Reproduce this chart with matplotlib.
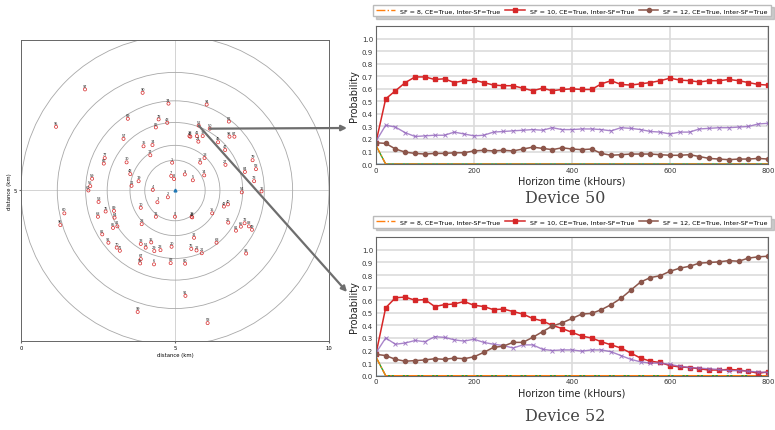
import numpy as np
import matplotlib.pyplot as plt
from matplotlib.patches import Circle, ConnectionPatch

# ---- left panel: device positions (km) ----
radii = [0.98, 1.46, 2.2, 2.9, 3.82, 5.0]

dev_id = [97, 90, 74, 94, 95, 69, 78, 43, 52, 50, 62, 86, 57, 38, 46, 41, 37, 24,
          98, 87, 35, 34, 45, 47, 17, 77, 66, 30, 1, 18, 13, 27, 79, 58, 84, 48,
          7, 8, 9, 5, 14, 59, 19, 73, 56, 61, 11, 4, 54, 16, 2, 3, 53, 60, 96,
          75, 89, 64, 10, 12, 0, 39, 44, 15, 42, 40, 68, 26, 72, 81, 65, 88, 49,
          28, 85, 31, 82, 32, 63, 36, 33, 51, 92, 70, 71, 20, 76, 23, 29, 22, 21,
          93, 67, 55, 6, 83, 80, 91, 99, 58]
dev_x = [2.08, 3.95, 4.79, 6.03, 1.14, 3.47, 4.47, 4.75, 5.77, 6.13, 6.75, 4.38, 3.33, 5.47, 5.50, 5.71, 5.90, 5.76,
         6.77, 6.93, 3.98, 4.27, 6.40, 6.63, 4.20, 2.72, 2.69, 3.43, 4.91, 5.82, 5.96, 6.64, 7.52, 7.63, 7.27, 3.55,
         4.88, 4.97, 5.32, 5.58, 5.95, 2.31, 3.82, 7.57, 2.25, 2.19, 3.59, 4.28, 7.17, 7.81, 4.77, 4.43, 2.52, 1.41, 1.28,
         2.75, 3.02, 3.04, 3.89, 4.38, 5.00, 5.54, 5.56, 6.21, 6.59, 6.72, 2.50, 6.73, 7.26, 6.98, 7.14, 7.40, 7.50,
         3.92, 2.99, 3.13, 2.64, 5.62, 6.35, 4.23, 3.89, 4.05, 2.84, 3.11, 3.21, 4.89, 5.53, 4.53, 4.33, 5.70, 5.87,
         7.31, 3.89, 3.87, 4.32, 4.86, 5.33, 5.34, 3.79, 6.06]
dev_y = [8.27, 8.16, 7.81, 7.78, 7.06, 7.32, 7.30, 7.19, 7.10, 7.00, 7.23, 7.04, 6.67, 6.76, 6.74, 6.76, 6.76, 6.58,
         6.74, 6.74, 6.43, 6.47, 6.56, 6.31, 6.14, 6.05, 5.87, 5.91, 5.90, 5.90, 6.05, 5.83, 5.98, 5.69, 5.60, 5.53,
         5.47, 5.37, 5.52, 5.33, 5.49, 5.38, 5.30, 5.30, 5.14, 5.00, 5.15, 5.02, 4.94, 4.97, 4.78, 4.62, 4.63, 4.26, 3.88,
         4.32, 4.34, 4.12, 4.44, 4.15, 4.15, 4.15, 4.13, 4.26, 4.48, 4.55, 4.15, 3.96, 3.94, 3.70, 3.83, 3.84, 3.73,
         3.91, 3.79, 3.84, 3.58, 3.47, 3.31, 3.32, 3.27, 3.15, 3.31, 3.15, 3.05, 3.18, 3.11, 3.07, 3.04, 3.06, 2.97,
         2.96, 2.78, 2.64, 2.61, 2.65, 2.63, 1.59, 1.07, 0.71]

# ---- right panels: probability of each SF over time ----
hours = np.arange(0, 801, 20)
sf7 = [0.0] * 41
sf8 = [0.15] + [0.0] * 40
sf9 = [0.15] + [0.0] * 40

d50_sf10 = [0.17, 0.52, 0.585, 0.65, 0.695, 0.695, 0.675, 0.68, 0.65, 0.665, 0.67,
            0.65, 0.63, 0.625, 0.625, 0.605, 0.585, 0.605, 0.585, 0.595, 0.60,
            0.595, 0.595, 0.64, 0.665, 0.635, 0.63, 0.64, 0.65, 0.665, 0.685,
            0.67, 0.665, 0.655, 0.665, 0.665, 0.675, 0.665, 0.65, 0.635, 0.63]
d50_sf11 = [0.18, 0.31, 0.295, 0.25, 0.22, 0.225, 0.23, 0.23, 0.255, 0.24, 0.225,
            0.23, 0.255, 0.26, 0.265, 0.27, 0.275, 0.27, 0.29, 0.275, 0.275,
            0.28, 0.28, 0.275, 0.265, 0.29, 0.285, 0.275, 0.26, 0.255, 0.24,
            0.255, 0.255, 0.28, 0.285, 0.29, 0.29, 0.295, 0.30, 0.32, 0.325]
d50_sf12 = [0.17, 0.165, 0.12, 0.095, 0.085, 0.08, 0.085, 0.085, 0.09, 0.09, 0.105,
            0.11, 0.105, 0.11, 0.105, 0.12, 0.135, 0.125, 0.115, 0.13, 0.12,
            0.115, 0.12, 0.085, 0.07, 0.075, 0.08, 0.08, 0.08, 0.075, 0.07,
            0.07, 0.075, 0.06, 0.045, 0.04, 0.035, 0.04, 0.04, 0.045, 0.04]

d52_sf10 = [0.17, 0.54, 0.62, 0.625, 0.60, 0.605, 0.55, 0.565, 0.57, 0.59, 0.56,
            0.55, 0.525, 0.53, 0.51, 0.49, 0.455, 0.435, 0.40, 0.375, 0.345,
            0.315, 0.30, 0.27, 0.245, 0.22, 0.18, 0.14, 0.115, 0.105, 0.08,
            0.07, 0.065, 0.055, 0.045, 0.045, 0.05, 0.045, 0.035, 0.02, 0.03]
d52_sf11 = [0.18, 0.30, 0.25, 0.26, 0.28, 0.27, 0.31, 0.305, 0.285, 0.275, 0.29,
            0.265, 0.25, 0.24, 0.22, 0.245, 0.245, 0.21, 0.20, 0.205, 0.205,
            0.195, 0.205, 0.205, 0.19, 0.16, 0.13, 0.11, 0.10, 0.10, 0.09,
            0.075, 0.065, 0.06, 0.055, 0.05, 0.04, 0.04, 0.035, 0.03, 0.025]
d52_sf12 = [0.17, 0.16, 0.13, 0.115, 0.12, 0.125, 0.135, 0.13, 0.14, 0.135, 0.15,
            0.185, 0.225, 0.235, 0.265, 0.265, 0.305, 0.35, 0.395, 0.42, 0.455,
            0.49, 0.495, 0.525, 0.565, 0.615, 0.68, 0.745, 0.78, 0.795, 0.83,
            0.855, 0.87, 0.895, 0.90, 0.905, 0.915, 0.91, 0.935, 0.945, 0.95]

legend_labels = ["SF = 8, CE=True, Inter-SF=True",
                 "SF = 10, CE=True, Inter-SF=True",
                 "SF = 12, CE=True, Inter-SF=True"]

fig = plt.figure(figsize=(7.75, 4.31), dpi=100)

# left: map of devices
ax = fig.add_axes([0.027, 0.2065, 0.3975, 0.6985])
for r in radii:
    ax.add_patch(Circle((5, 5), r, fill=False, ec='#a8a8a8', lw=0.6))
ax.scatter(dev_x, dev_y, s=5, facecolors='none', edgecolors='tab:red', linewidths=0.5, zorder=3)
for n, x, y in zip(dev_id, dev_x, dev_y):
    ax.text(x, y + 0.06, str(n), fontsize=2.5, ha='center', va='bottom', color='#222')
ax.plot(5, 5, '^', color='tab:blue', ms=2, zorder=4)
ax.set_xlim(0, 10)
ax.set_ylim(0.13, 9.87)
ax.set_xticks([0, 5, 10])
ax.set_yticks([5])
ax.grid(True, color='#cccccc', lw=0.6)
ax.set_axisbelow(True)
ax.set_xlabel("distance (km)", fontsize=3.8, labelpad=1)
ax.set_ylabel("distance (km)", fontsize=3.8, labelpad=1)
ax.tick_params(labelsize=3.8, length=1.5, pad=1.5, color='#666')
for s in ax.spines.values():
    s.set_color('#666')
    s.set_linewidth(0.7)


def panel(rect, sf10, sf11, sf12, title, title_y):
    a = fig.add_axes(rect)
    a.plot(hours, sf7, color='tab:blue', lw=1)
    a.plot(hours, sf9, color='tab:green', lw=1)
    l8, = a.plot(hours, sf8, '-.', color='tab:orange', lw=1)
    l10, = a.plot(hours, sf10, 's-', color='tab:red', ms=3, lw=1.1)
    a.plot(hours, sf11, 'x-', color='tab:purple', ms=3, lw=1, mew=0.7, alpha=0.8)
    l12, = a.plot(hours, sf12, 'o-', color='tab:brown', ms=3, lw=1.1)
    a.set_xlim(0, 800)
    a.set_ylim(0, 1.1)
    a.set_xticks([0, 200, 400, 600, 800])
    a.set_yticks(np.arange(0, 1.01, 0.1))
    a.yaxis.set_major_formatter('{x:.1f}')
    a.grid(True, color='#dcdcdc', lw=1.2)
    a.set_axisbelow(True)
    a.tick_params(labelsize=5, length=0, pad=2, labelcolor='#333')
    a.set_xlabel("Horizon time (kHours)", fontsize=7, labelpad=2, color='#222')
    a.set_ylabel("Probability", fontsize=7, labelpad=2, color='#222')
    for s in a.spines.values():
        s.set_color('#666')
        s.set_linewidth(0.8)
    a.legend([l8, l10, l12], legend_labels, ncol=3, loc='lower left', mode='expand',
             bbox_to_anchor=(-0.008, 1.07, 1.016, 0.1), borderaxespad=0,
             fontsize=4.6, shadow={'color': '#aaaaaa', 'alpha': 0.6}, fancybox=False,
             edgecolor='#bbbbbb', handlelength=3, framealpha=1, borderpad=0.5)
    fig.text(565 / 775, title_y, title, family='DejaVu Serif', fontsize=11.5,
             color='#444444', ha='center', va='center')
    return a


panel([0.485, 0.617, 0.506, 0.320], d50_sf10, d50_sf11, d50_sf12, "Device 50", 1 - 199 / 431)
panel([0.485, 0.126, 0.506, 0.321], d52_sf10, d52_sf11, d52_sf12, "Device 52", 1 - 417 / 431)

# arrows from the two devices to their panels
i50 = dev_id.index(50)
i52 = dev_id.index(52)
for i, end in [(i50, (347 / 775, 1 - 129 / 431)), (i52, (347 / 775, 1 - 293 / 431))]:
    con = ConnectionPatch(xyA=(dev_x[i], dev_y[i]), coordsA=ax.transData,
                          xyB=end, coordsB=fig.transFigure,
                          arrowstyle='-|>', mutation_scale=8, color='#6e6e6e', lw=1.6)
    fig.add_artist(con)

fig.savefig("out.png", dpi=100)
